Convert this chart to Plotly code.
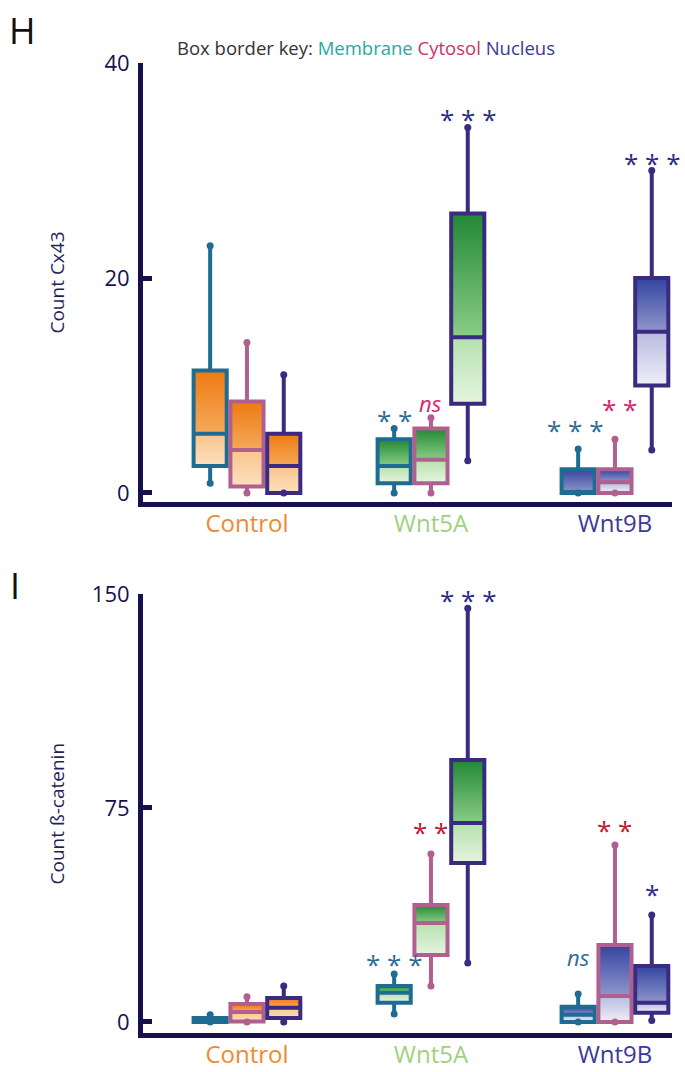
import plotly.graph_objects as go

# ---------------- data ----------------
groups = ["Control", "Wnt5A", "Wnt9B"]
compartments = ["Membrane", "Cytosol", "Nucleus"]

# Cx43 counts (five-number summaries per group: Control, Wnt5A, Wnt9B)
cx43_membrane = dict(lower=[0.9, 0.0, 0.0], q1=[2.5, 0.9, 0.0], median=[5.5, 2.5, 0.0],
                     q3=[11.4, 5.0, 2.2], upper=[23.0, 6.0, 4.1])
cx43_cytosol = dict(lower=[0.0, 0.0, 0.0], q1=[0.6, 0.9, 0.0], median=[4.0, 3.1, 1.0],
                    q3=[8.5, 6.0, 2.2], upper=[14.0, 7.0, 5.0])
cx43_nucleus = dict(lower=[0.0, 3.0, 4.0], q1=[0.0, 8.3, 10.0], median=[2.5, 14.5, 15.0],
                    q3=[5.5, 26.0, 20.0], upper=[11.0, 34.0, 30.0])

# beta-catenin counts
bcat_membrane = dict(lower=[0.0, 2.8, 0.0], q1=[0.0, 6.7, 0.0], median=[0.5, 10.2, 2.5],
                     q3=[1.4, 12.6, 5.3], upper=[2.5, 16.8, 9.8])
bcat_cytosol = dict(lower=[0.0, 12.6, 0.0], q1=[0.2, 23.5, 0.0], median=[3.5, 34.7, 9.1],
                    q3=[6.3, 41.0, 27.0], upper=[8.8, 58.9, 62.0])
bcat_nucleus = dict(lower=[0.0, 20.7, 0.5], q1=[1.4, 55.7, 3.2], median=[5.0, 69.7, 6.7],
                    q3=[8.4, 91.8, 19.6], upper=[12.6, 145.0, 37.5])

# significance labels
cx43_sig_membrane = ["", "**", "***"]
cx43_sig_cytosol = ["", "ns", "**"]
cx43_sig_nucleus = ["", "***", "***"]
bcat_sig_membrane = ["", "***", "ns"]
bcat_sig_cytosol = ["", "**", "**"]
bcat_sig_nucleus = ["", "***", "*"]

cx43_ticks = [0, 20, 40]
bcat_ticks = [0, 75, 150]

# ---------------- styles ----------------
AX = "#16114d"
border_colors = {"Membrane": "#1f6c93", "Cytosol": "#b0608f", "Nucleus": "#3a2a80"}
group_label_colors = ["#f08a30", "#9fd07f", "#3b3a98"]
fills = [  # dark(top), mid(at median), light(below median), very light(bottom)
    ("#ee7a12", "#f6a95a", "#f9c48c", "#fde0bf"),
    ("#228835", "#8acd86", "#b5e1ad", "#e6f5e0"),
    ("#3444a0", "#8f97cb", "#b7bbe0", "#efeff8"),
]
offsets = [-0.2, 0.0, 0.2]
box_w = 0.18

panels = [
    dict(stats=[cx43_membrane, cx43_cytosol, cx43_nucleus],
         sig=[cx43_sig_membrane, cx43_sig_cytosol, cx43_sig_nucleus],
         sigcol={"Membrane": "#2f6c95", "Cytosol": "#e0206e", "Nucleus": "#2c2a85"},
         ns_color="#e0206e",
         shift=[[0, 15, 26], [0, 15, 37], [0, 16, 15]],
         xshift=[[0, 0, -3], [0, 0, 5], [0, 0, 0]],
         base=("x", "y"), over=("x3", "y3"), yrange=[-0.84, 40], ticks=cx43_ticks,
         title="Count Cx43", dom=[0.5317, 0.9412]),
    dict(stats=[bcat_membrane, bcat_cytosol, bcat_nucleus],
         sig=[bcat_sig_membrane, bcat_sig_cytosol, bcat_sig_nucleus],
         sigcol={"Membrane": "#2f6c95", "Cytosol": "#b82030", "Nucleus": "#2c2a85"},
         ns_color="#2f6c95",
         shift=[[0, 17, 37], [0, 29, 22], [0, 15, 28]],
         xshift=[[0, 0, 0], [0, 0, 0], [0, 0, 0]],
         base=("x2", "y2"), over=("x4", "y4"), yrange=[-3.86, 150], ticks=bcat_ticks,
         title="Count ß-catenin", dom=[0.0364, 0.4459]),
]

fig = go.Figure()
annotations = []
FONT = "Open Sans"

for p in panels:
    bx, by = p["base"]
    ox, oy = p["over"]
    for ci, comp in enumerate(compartments):
        st = p["stats"][ci]
        xs = [g + offsets[ci] for g in range(len(groups))]
        # gradient fills (drawn on base axes, beneath the boxes)
        for gi, x in enumerate(xs):
            dark, mid, light, vlight = fills[gi]
            x0, x1 = x - box_w / 2, x + box_w / 2
            q1, med, q3 = st["q1"][gi], st["median"][gi], st["q3"][gi]
            if q3 > med:
                fig.add_trace(go.Scatter(
                    x=[x0, x1, x1, x0, x0], y=[med, med, q3, q3, med], mode="lines",
                    fill="toself", line=dict(width=0),
                    fillgradient=dict(type="vertical", colorscale=[[0, mid], [1, dark]]),
                    xaxis=bx, yaxis=by, showlegend=False, hoverinfo="skip"))
            if med > q1:
                fig.add_trace(go.Scatter(
                    x=[x0, x1, x1, x0, x0], y=[q1, q1, med, med, q1], mode="lines",
                    fill="toself", line=dict(width=0),
                    fillgradient=dict(type="vertical", colorscale=[[0, vlight], [1, light]]),
                    xaxis=bx, yaxis=by, showlegend=False, hoverinfo="skip"))
        # boxes (overlay axes, on top of gradients)
        fig.add_trace(go.Box(
            x=xs, q1=st["q1"], median=st["median"], q3=st["q3"],
            lowerfence=st["lower"], upperfence=st["upper"], width=box_w,
            fillcolor="rgba(0,0,0,0)", line=dict(color=border_colors[comp], width=4),
            whiskerwidth=0, name=comp, showlegend=False,
            xaxis=ox, yaxis=oy))
        # whisker end caps
        fig.add_trace(go.Scatter(
            x=xs + xs, y=st["lower"] + st["upper"], mode="markers",
            marker=dict(color=border_colors[comp], size=7),
            xaxis=ox, yaxis=oy, showlegend=False, hoverinfo="skip"))
        # significance
        for gi, x in enumerate(xs):
            lab = p["sig"][ci][gi]
            if not lab:
                continue
            if lab == "ns":
                txt = "<i>ns</i>"
                col = p["ns_color"]
                size = 22
                corr = 0
            else:
                txt = " ".join(lab)
                col = p["sigcol"][comp]
                size = 26
                corr = -7
            annotations.append(dict(
                x=x, y=st["upper"][gi], xref=bx, yref=by, text=txt, showarrow=False,
                yanchor="middle", xanchor="center", yshift=p["shift"][ci][gi] + corr,
                xshift=p["xshift"][ci][gi],
                font=dict(family=FONT, size=size, color=col)))
    annotations.append(dict(
        x=57 / 685, y=sum(p["dom"]) / 2, xref="paper", yref="paper", text=p["title"],
        textangle=-90, showarrow=False, xanchor="center", yanchor="middle",
        font=dict(family=FONT, size=19, color="#231f5c")))

ticktext = [f"<span style='color:{c}'>{g}</span>" for g, c in zip(groups, group_label_colors)]
xdom = [143 / 685, 672 / 685]
xrange = [-0.565, 2.31]

def base_x(anchor):
    return dict(domain=xdom, range=xrange, anchor=anchor, showline=True, linewidth=5,
                linecolor=AX, showgrid=False, zeroline=False, ticks="", automargin=False,
                tickvals=[0, 1, 2], ticktext=ticktext, ticklabelstandoff=-4,
                tickfont=dict(family=FONT, size=24), fixedrange=True)

def base_y(p, anchor):
    return dict(domain=p["dom"], range=p["yrange"], anchor=anchor, showline=True, linewidth=5,
                linecolor=AX, showgrid=False, zeroline=False, ticks="inside", ticklen=9,
                tickwidth=5, tickcolor=AX, tickvals=p["ticks"], automargin=False,
                tickfont=dict(family=FONT, size=22, color=AX), ticklabelstandoff=4)

def over_x(base, anchor):
    return dict(domain=xdom, range=xrange, overlaying=base, anchor=anchor, visible=False,
                automargin=False)

def over_y(p, base, anchor):
    return dict(domain=p["dom"], range=p["yrange"], overlaying=base, anchor=anchor,
                visible=False, automargin=False)

annotations += [
    dict(x=22 / 685, y=1 - 31 / 1072, xref="paper", yref="paper", text="H", showarrow=False,
         xanchor="center", yanchor="middle", font=dict(family=FONT, size=36, color="#111111")),
    dict(x=15 / 685, y=1 - 585 / 1072, xref="paper", yref="paper", text="I", showarrow=False,
         xanchor="center", yanchor="middle", font=dict(family=FONT, size=36, color="#111111")),
    dict(x=366 / 685, y=1 - 47 / 1072, xref="paper", yref="paper", showarrow=False,
         xanchor="center", yanchor="middle",
         text=("<span style='color:#333333'>Box border key: </span>"
               "<span style='color:#2aa89f'>Membrane </span>"
               "<span style='color:#d0306a'>Cytosol </span>"
               "<span style='color:#3a3a90'>Nucleus</span>"),
         font=dict(family=FONT, size=18.5)),
]

fig.update_layout(
    width=685, height=1072, autosize=False,
    margin=dict(l=0, r=0, t=0, b=0, pad=0, autoexpand=False),
    paper_bgcolor="white", plot_bgcolor="white", boxmode="overlay",
    showlegend=False, annotations=annotations,
    xaxis=base_x("y"), yaxis=base_y(panels[0], "x"),
    xaxis2=base_x("y2"), yaxis2=base_y(panels[1], "x2"),
    xaxis3=over_x("x", "y3"), yaxis3=over_y(panels[0], "y", "x3"),
    xaxis4=over_x("x2", "y4"), yaxis4=over_y(panels[1], "y2", "x4"),
)

fig.write_html("out.html", config={"displayModeBar": False},
               post_script="document.body.style.margin='0';")
